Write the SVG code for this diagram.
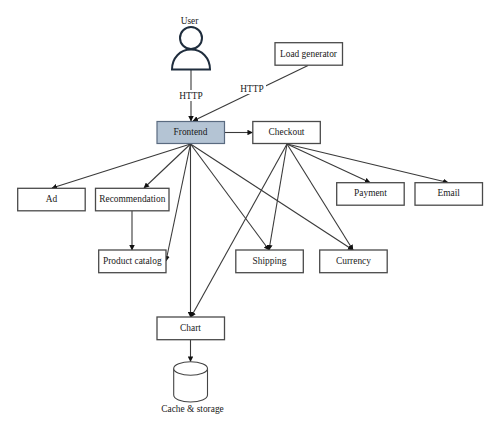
<svg xmlns="http://www.w3.org/2000/svg" width="500" height="432" viewBox="0 0 500 432">
<style>
.b{fill:#fff;stroke:#4a4a4a;stroke-width:1.3}
.t{font-family:"Liberation Serif",serif;font-size:9.4px;fill:#1a1a1a;text-anchor:middle}
.c{fill:none;stroke:#3a3a3a;stroke-width:1.1;marker-end:url(#a)}
</style>
<defs><marker id="a" viewBox="0 0 6 6" refX="5.5" refY="3" markerWidth="5.5" markerHeight="5.5" markerUnits="userSpaceOnUse" orient="auto"><path d="M0 0L6 3L0 6z" fill="#111"/></marker></defs>
<rect width="500" height="432" fill="#fff"/>
<g id="connectors">
<path class="c" d="M191 70V121"/>
<path class="c" d="M308 65.500L193 121"/>
<path class="c" d="M224.500 132.500H252.500"/>
<path class="c" d="M190.500 144L52 188"/>
<path class="c" d="M190.500 144L144 188"/>
<path class="c" d="M190.500 144L166 261"/>
<path class="c" d="M190.500 144V317"/>
<path class="c" d="M190.500 144L269 250"/>
<path class="c" d="M190.500 144L353 250"/>
<path class="c" d="M132 211V250"/>
<path class="c" d="M287 144L191 317"/>
<path class="c" d="M287 144L269 250"/>
<path class="c" d="M287 144L353 250"/>
<path class="c" d="M287 144L370 182.500"/>
<path class="c" d="M287 144L448 182.500"/>
<path class="c" d="M190.500 340V361.500"/>
</g>
<g id="http-user"><rect x="178" y="90" width="26" height="11" fill="#fff"/><text class="t" x="191" y="99">HTTP</text></g>
<g id="http-load"><rect x="239" y="83" width="27" height="11" fill="#fff"/><text class="t" x="252" y="92">HTTP</text></g>
<g id="user">
<text class="t" x="189.500" y="24">User</text>
<path d="M172 69.500C172 58 180 49.500 191 49.500C202 49.500 210 58 210 69.500Z" fill="#fff" stroke="#1f2d3d" stroke-width="2"/>
<circle cx="191" cy="38" r="11" fill="#fff" stroke="#1f2d3d" stroke-width="2"/>
</g>
<g id="frontend"><rect x="157" y="121.500" width="67.500" height="22" fill="#b4c4d4" stroke="#5a6b80" stroke-width="1.200"/><text class="t" x="190.500" y="135">Frontend</text></g>
<g id="checkout"><rect class="b" x="252.800" y="121.500" width="67.500" height="22"/><text class="t" x="286.500" y="135">Checkout</text></g>
<g id="load-generator"><rect class="b" x="275" y="42.700" width="67.500" height="22.500"/><text class="t" x="308.500" y="56.500">Load generator</text></g>
<g id="ad"><rect class="b" x="17.700" y="188.300" width="67.500" height="22.500"/><text class="t" x="51.500" y="202">Ad</text></g>
<g id="recommendation"><rect class="b" x="95.500" y="188.300" width="73.500" height="22.500"/><text class="t" x="132.300" y="202">Recommendation</text></g>
<g id="product-catalog"><rect class="b" x="98.700" y="250" width="67.300" height="22.700"/><text class="t" x="132.300" y="264">Product catalog</text></g>
<g id="payment"><rect class="b" x="336.700" y="182.700" width="67.500" height="22.500"/><text class="t" x="370.500" y="196">Payment</text></g>
<g id="email"><rect class="b" x="415" y="182.700" width="67.500" height="22.500"/><text class="t" x="448.700" y="196">Email</text></g>
<g id="shipping"><rect class="b" x="235.800" y="250" width="67.500" height="22.700"/><text class="t" x="269.500" y="264">Shipping</text></g>
<g id="currency"><rect class="b" x="319.700" y="250" width="67.500" height="22.700"/><text class="t" x="353.500" y="264">Currency</text></g>
<g id="chart"><rect class="b" x="157" y="317" width="67.500" height="22.700"/><text class="t" x="190.500" y="331">Chart</text></g>
<g id="cache-storage">
<path d="M173.700 368.500V395C173.700 399 181 402 190.600 402C200 402 207.500 399 207.500 395V368.500" fill="#fff" stroke="#444" stroke-width="1.100"/>
<ellipse cx="190.600" cy="368.500" rx="16.900" ry="6.700" fill="#fff" stroke="#444" stroke-width="1.100"/>
<text class="t" x="192.500" y="412">Cache &amp; storage</text>
</g>
</svg>
